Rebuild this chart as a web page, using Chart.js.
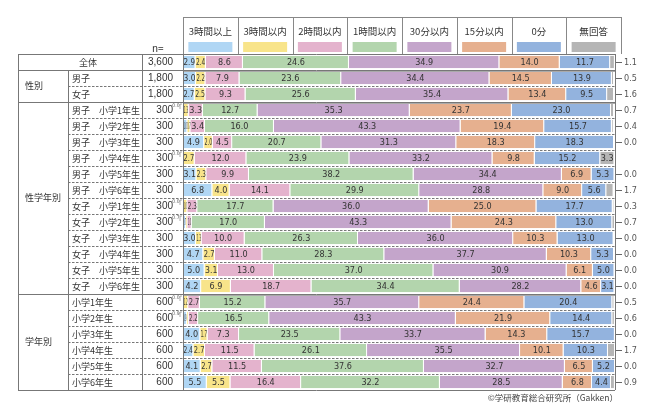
<!DOCTYPE html>
<html><head><meta charset="utf-8">
<script src="https://cdn.jsdelivr.net/npm/chart.js@4.4.0/dist/chart.umd.min.js"></script>
<style>html,body{margin:0;padding:0;background:#fff}#wrap{width:650px;height:418px;position:relative}</style>
</head><body><div id="wrap"><canvas id="c" width="650" height="418"></canvas></div>
<script>
const categories = ['全体','男子','女子',
  '男子　小学1年生','男子　小学2年生','男子　小学3年生','男子　小学4年生','男子　小学5年生','男子　小学6年生',
  '女子　小学1年生','女子　小学2年生','女子　小学3年生','女子　小学4年生','女子　小学5年生','女子　小学6年生',
  '小学1年生','小学2年生','小学3年生','小学4年生','小学5年生','小学6年生'];
const nValues = ['3,600','1,800','1,800','300','300','300','300','300','300','300','300','300','300','300','300','600','600','600','600','600','600'];
const groupNames = ['性別','性学年別','学年別'];
const groupStarts = [1,3,15];
const groupEnds = [2,14,20];
const seriesNames = ['3時間以上','3時間以内','2時間以内','1時間以内','30分以内','15分以内','0分','無回答'];
const seriesColors = ['#b0d6f4','#f8e48a','#e4b3cd','#b3d5ad','#c4a5cb','#e6b08f','#93b3de','#b5b5b5'];

const over3h  = [2.9,3.0,2.7, 0.0,1.0,4.9,0.0,3.1,6.8, 0.0,0.7,3.0,4.7,5.0,4.2, 0.0,0.9,4.0,2.4,4.1,5.5];
const within3h= [2.4,2.2,2.5, 1.3,0.7,2.0,2.7,2.3,4.0, 1.0,0.3,1.3,2.7,3.1,6.9, 1.2,0.4,1.7,2.7,2.7,5.5];
const within2h= [8.6,7.9,9.3, 3.3,3.4,4.5,12.0,9.9,14.1, 2.3,1.0,10.0,11.0,13.0,18.7, 2.7,2.2,7.3,11.5,11.5,16.4];
const within1h= [24.6,23.6,25.6, 12.7,16.0,20.7,23.9,38.2,29.9, 17.7,17.0,26.3,28.3,37.0,34.4, 15.2,16.5,23.5,26.1,37.6,32.2];
const within30m=[34.9,34.4,35.4, 35.3,43.3,31.3,33.2,34.4,28.8, 36.0,43.3,36.0,37.7,30.9,28.2, 35.7,43.3,33.7,35.5,32.7,28.5];
const within15m=[14.0,14.5,13.4, 23.7,19.4,18.3,9.8,6.9,9.0, 25.0,24.3,10.3,10.3,6.1,4.6, 24.4,21.9,14.3,10.1,6.5,6.8];
const zeroMin = [11.7,13.9,9.5, 23.0,15.7,18.3,15.2,5.3,5.6, 17.7,13.0,13.0,5.3,5.0,3.1, 20.4,14.4,15.7,10.3,5.2,4.4];
const noAnswer= [1.1,0.5,1.6, 0.7,0.4,0.0,3.3,0.0,1.7, 0.3,0.7,0.0,0.0,0.0,0.0, 0.5,0.6,0.0,1.7,0.0,0.9];
const seriesData = [over3h,within3h,within2h,within1h,within30m,within15m,zeroMin,noAnswer];

const JP = '"Noto Sans CJK JP","Noto Sans",sans-serif';
const NUM = '"Liberation Sans Narrow","DejaVu Sans Condensed","Liberation Sans",sans-serif';
const NUMW = '"Liberation Sans","DejaVu Sans",sans-serif';

const tablePlugin = {
  id: 'tablePlugin',
  beforeDraw(chart) {
    const ctx = chart.ctx;
    ctx.save(); ctx.fillStyle = '#fff'; ctx.fillRect(0, 0, chart.width, chart.height); ctx.restore();
  },
  afterDatasetsDraw(chart) {
    const ctx = chart.ctx, ca = chart.chartArea;
    ctx.save();
    ctx.textAlign = 'center'; ctx.textBaseline = 'middle';
    ctx.fillStyle = '#333';
    for (let d = 0; d < 8; d++) {
      const meta = chart.getDatasetMeta(d);
      meta.data.forEach((el, i) => {
        const v = seriesData[d][i];
        const x0 = Math.max(el.base, ca.left), x1 = Math.min(el.x, ca.right);
        const w = x1 - x0;
        if (d === 7) {
          if (w >= 10) {
            ctx.font = '9px ' + NUM;
            ctx.fillText(v.toFixed(1), (x0 + x1) / 2, el.y + 0.5);
          }
          return;
        }
        if (v <= 0 || w < 3) return;
        ctx.font = '9px ' + NUM;
        const txt = v.toFixed(1);
        const tw = ctx.measureText(txt).width;
        const cx = (x0 + x1) / 2, cy = el.y + 0.5;
        if (tw > w - 1) {
          const sx = Math.max((w - 1) / tw, 0.25);
          ctx.save(); ctx.translate(cx, cy); ctx.scale(sx, 1); ctx.fillText(txt, 0, 0); ctx.restore();
        } else {
          ctx.fillText(txt, cx, cy);
        }
      });
    }
    ctx.restore();
  },
  afterDraw(chart) {
    const ctx = chart.ctx, ca = chart.chartArea, ys = chart.scales.y;
    const n = categories.length;
    const L = 18, C1 = 68, C2 = 142, C3 = ca.left, R = ca.right + 1;
    const rowTop = i => i === 0 ? ca.top : (ys.getPixelForValue(i - 1) + ys.getPixelForValue(i)) / 2;
    const rowBot = i => i === n - 1 ? ca.bottom : (ys.getPixelForValue(i) + ys.getPixelForValue(i + 1)) / 2;
    ctx.save();
    // header
    const hx0 = C3, hx1 = 621, hTop = 17, colW = (hx1 - hx0) / 8;
    ctx.strokeStyle = '#888'; ctx.lineWidth = 1;
    ctx.beginPath(); ctx.moveTo(hx0, hTop + 0.5); ctx.lineTo(hx1, hTop + 0.5); ctx.stroke();
    for (let k = 0; k <= 8; k++) {
      const x = Math.round(hx0 + k * colW) + 0.5;
      ctx.beginPath(); ctx.moveTo(x, hTop); ctx.lineTo(x, ca.top); ctx.stroke();
    }
    ctx.textAlign = 'center'; ctx.textBaseline = 'middle';
    for (let k = 0; k < 8; k++) {
      const cx = hx0 + (k + 0.5) * colW;
      ctx.fillStyle = '#333'; ctx.font = '9.5px ' + JP;
      ctx.fillText(seriesNames[k], cx, 31);
      ctx.fillStyle = seriesColors[k];
      ctx.fillRect(cx - 22, 42, 44, 10);
    }
    ctx.fillStyle = '#333'; ctx.font = '10px ' + JP; ctx.textAlign = 'left';
    ctx.fillText('n=', 152, 48);
    // row separators
    const groupSep = new Set([0, 2, 14]);
    for (let i = 0; i < n - 1; i++) {
      const y = Math.round(rowBot(i)) + 0.5;
      if (groupSep.has(i)) {
        ctx.setLineDash([]); ctx.strokeStyle = '#777'; ctx.lineWidth = 1;
        ctx.beginPath(); ctx.moveTo(L, y); ctx.lineTo(R, y); ctx.stroke();
        ctx.strokeStyle = '#aaa'; ctx.lineWidth = 1;
        ctx.beginPath(); ctx.moveTo(C3, y + 1); ctx.lineTo(R, y + 1); ctx.stroke();
      } else {
        ctx.setLineDash([2.5, 1.5]); ctx.strokeStyle = '#777'; ctx.lineWidth = 1;
        ctx.beginPath(); ctx.moveTo(C1, y); ctx.lineTo(R, y); ctx.stroke();
      }
    }
    ctx.setLineDash([]);
    // outer lines
    ctx.strokeStyle = '#777'; ctx.lineWidth = 1;
    ctx.beginPath(); ctx.moveTo(L, Math.round(ca.top) + 0.5); ctx.lineTo(R, Math.round(ca.top) + 0.5); ctx.stroke();
    ctx.beginPath(); ctx.moveTo(L, Math.round(ca.bottom) + 0.5); ctx.lineTo(R, Math.round(ca.bottom) + 0.5); ctx.stroke();
    [L, C2, C3, R].forEach(x => { ctx.beginPath(); ctx.moveTo(x + 0.5, ca.top); ctx.lineTo(x + 0.5, ca.bottom); ctx.stroke(); });
    ctx.beginPath(); ctx.moveTo(C1 + 0.5, rowBot(0)); ctx.lineTo(C1 + 0.5, ca.bottom); ctx.stroke();
    // left texts
    ctx.fillStyle = '#333'; ctx.textBaseline = 'middle';
    for (let i = 0; i < n; i++) {
      const y = ys.getPixelForValue(i) + 0.5;
      ctx.font = '9px ' + JP;
      if (i === 0) { ctx.textAlign = 'center'; ctx.fillText(categories[i], 88, y); }
      else { ctx.textAlign = 'left'; ctx.fillText(categories[i], 72, y); }
      ctx.textAlign = 'right'; ctx.font = '10px ' + NUMW;
      ctx.fillText(nValues[i], 173, y);
    }
    ctx.textAlign = 'left'; ctx.font = '9px ' + JP;
    for (let g = 0; g < groupNames.length; g++) {
      const y = (rowTop(groupStarts[g]) + rowBot(groupEnds[g])) / 2;
      ctx.fillText(groupNames[g], 25, y);
    }
    // callouts for tiny first segments
    ctx.strokeStyle = '#777'; ctx.lineWidth = 0.6; ctx.fillStyle = '#555';
    for (let i = 0; i < n; i++) {
      if (over3h[i] < 1.0) {
        const t = rowTop(i) + 2;
        ctx.beginPath(); ctx.moveTo(C3 - 1, t); ctx.lineTo(C3 - 3, t); ctx.lineTo(C3 - 3, t + 5); ctx.stroke();
        ctx.font = '5px ' + NUM; ctx.textAlign = 'right';
        ctx.fillText(over3h[i].toFixed(1), C3 - 3.5, t + 2);
      }
    }
    // right labels for 無回答
    const meta = chart.getDatasetMeta(7);
    ctx.font = '9px ' + NUM; ctx.textAlign = 'left'; ctx.fillStyle = '#555'; ctx.strokeStyle = '#666'; ctx.lineWidth = 1;
    meta.data.forEach((el, i) => {
      const w = Math.min(el.x, ca.right) - el.base;
      if (w >= 10) return;
      const y = Math.round(el.y) + 0.5;
      ctx.beginPath(); ctx.moveTo(R + 1, y); ctx.lineTo(R + 7, y); ctx.stroke();
      ctx.fillText(noAnswer[i].toFixed(1), R + 9, y);
    });
    // footer
    ctx.fillStyle = '#444'; ctx.font = '8.5px ' + JP; ctx.textAlign = 'right';
    ctx.fillText('©学研教育総合研究所（Gakken）', 618, 398);
    ctx.restore();
  }
};

new Chart(document.getElementById('c'), {
  type: 'bar',
  data: {
    labels: categories,
    datasets: seriesNames.map((name, k) => ({
      label: name,
      data: seriesData[k],
      backgroundColor: seriesColors[k],
      borderColor: '#ffffff',
      borderWidth: {left: 0, right: 1, top: 0, bottom: 0},
      borderSkipped: false,
      categoryPercentage: 1.0,
      barPercentage: 0.78
    }))
  },
  options: {
    indexAxis: 'y',
    responsive: false,
    animation: false,
    layout: {padding: {left: 183, right: 36, top: 54, bottom: 28}},
    scales: {
      x: {stacked: true, min: 0, max: 100, display: false},
      y: {stacked: true, display: false}
    },
    plugins: {legend: {display: false}, tooltip: {enabled: false}}
  },
  plugins: [tablePlugin]
});
</script>
</body></html>
